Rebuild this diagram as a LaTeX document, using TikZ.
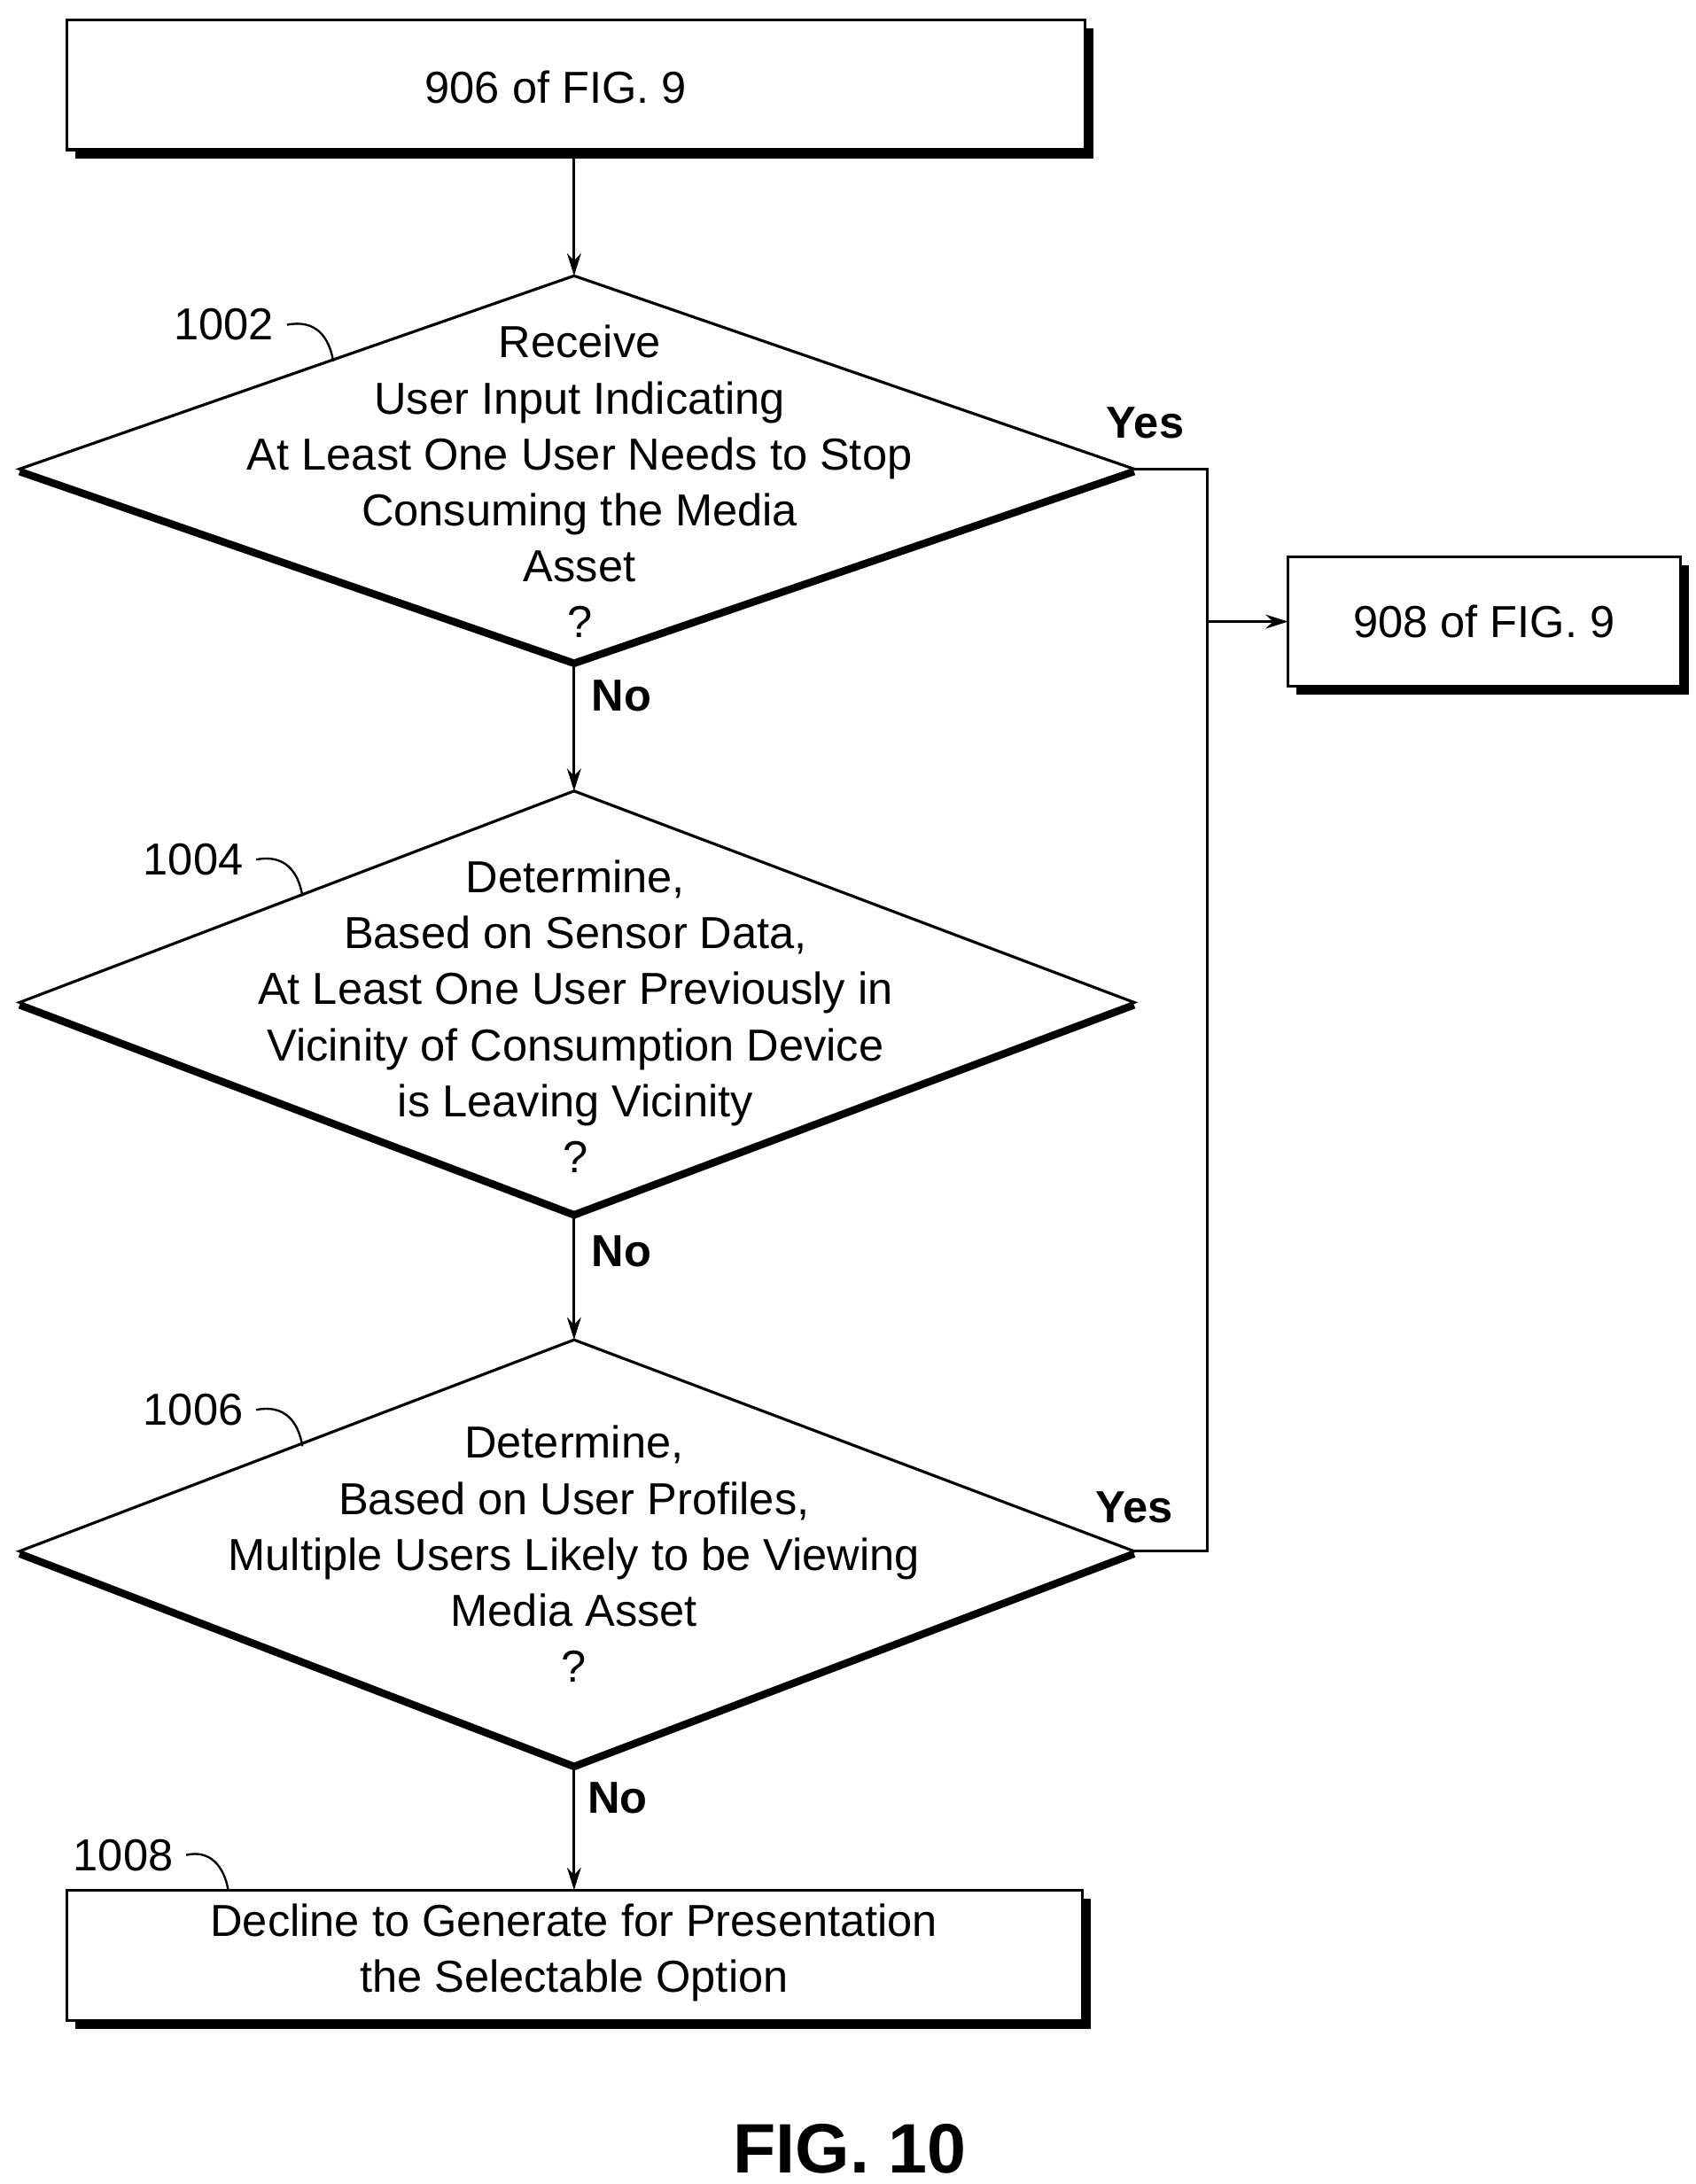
\documentclass[tikz,border=0pt]{standalone}
\usepackage{fontspec}
\setmainfont{Liberation Sans}
\usetikzlibrary{arrows.meta}
\begin{document}
\begin{tikzpicture}[x=1pt,y=-1pt,
  ln/.style={line width=2pt},
  arr/.style={ln,-{Stealth[length=16pt,width=10pt]}},
  txt/.style={font=\fontsize{32}{40}\selectfont,align=center,inner sep=0},
  lab/.style={font=\fontsize{32}{40}\selectfont,inner sep=0},
  yn/.style={font=\fontsize{32}{40}\selectfont\bfseries,inner sep=0}]
\useasboundingbox (0,0) rectangle (1211,1560);
% boxes
\newcommand{\shbox}[4]{%
  \fill (#1+6,#2+6) rectangle (#3+6,#4+6);
  \filldraw[ln,fill=white] (#1,#2) rectangle (#3,#4);}
\shbox{48}{14}{775}{107}
\node[txt] (b906) at (397,62) {906 of FIG. 9};
\shbox{920}{398}{1200}{490}
\node[txt] (b908) at (1060,444) {908 of FIG. 9};
\shbox{48}{1350}{773}{1443}
\node[txt] (b1008) at (410,1395) {Decline to Generate for Presentation\\the Selectable Option};
% diamonds
\newcommand{\dia}[3]{%
  \draw[line width=5pt] (14,#2+2) -- (410,#3+2) -- (810,#2+2);
  \filldraw[ln,fill=white] (410,#1) -- (810,#2) -- (410,#3) -- (14,#2) -- cycle;}
\dia{197}{335}{472}
\dia{565}{716}{866}
\dia{957}{1108}{1260}
\coordinate (d1t) at (410,197); \coordinate (d1b) at (410,472); \coordinate (d1r) at (810,335);
\coordinate (d2t) at (410,565); \coordinate (d2b) at (410,866);
\coordinate (d3t) at (410,957); \coordinate (d3b) at (410,1260); \coordinate (d3r) at (810,1108);
\node[txt] (t1) at (414,344) {Receive\\User Input Indicating\\At Least One User Needs to Stop\\Consuming the Media\\Asset\\?};
\node[txt] (t2) at (411,726) {Determine,\\Based on Sensor Data,\\At Least One User Previously in\\Vicinity of Consumption Device\\is Leaving Vicinity\\?};
\node[txt] (t3) at (410,1110) {Determine,\\Based on User Profiles,\\Multiple Users Likely to be Viewing\\Media Asset\\?};
% arrows
\draw[arr] (410,107) -- (d1t);
\draw[arr] (d1b) -- (d2t);
\draw[arr] (d2b) -- (d3t);
\draw[arr] (d3b) -- (410,1350);
\draw[ln] (d1r) -- (862,335) -- (862,1108) -- (d3r);
\coordinate (j) at (862,444);
\draw[arr] (j) -- (920,444);
% labels
\node[yn] (y1) at (818,302) {Yes};
\node[yn] (y2) at (810,1077) {Yes};
\node[yn] (n1) at (444,497) {No};
\node[yn] (n2) at (444,894) {No};
\node[yn] (n3) at (441,1284) {No};
\node[lab] (l1002) at (160,232) {1002};
\draw[line width=1.5pt] (205,232) .. controls (225,228) and (235,240) .. (238,258);
\node[lab] (l1004) at (138,614) {1004};
\draw[line width=1.5pt] (183,614) .. controls (203,610) and (213,622) .. (216,640);
\node[lab] (l1006) at (138,1007) {1006};
\draw[line width=1.5pt] (183,1007) .. controls (203,1003) and (213,1015) .. (216,1033);
\node[lab] (l1008) at (88,1325) {1008};
\draw[line width=1.5pt] (133,1325) .. controls (150,1321) and (160,1333) .. (163,1350);
\node[font=\fontsize{50}{60}\selectfont\bfseries,inner sep=0] (fig) at (607,1535) {FIG. 10};
\end{tikzpicture}
\end{document}
